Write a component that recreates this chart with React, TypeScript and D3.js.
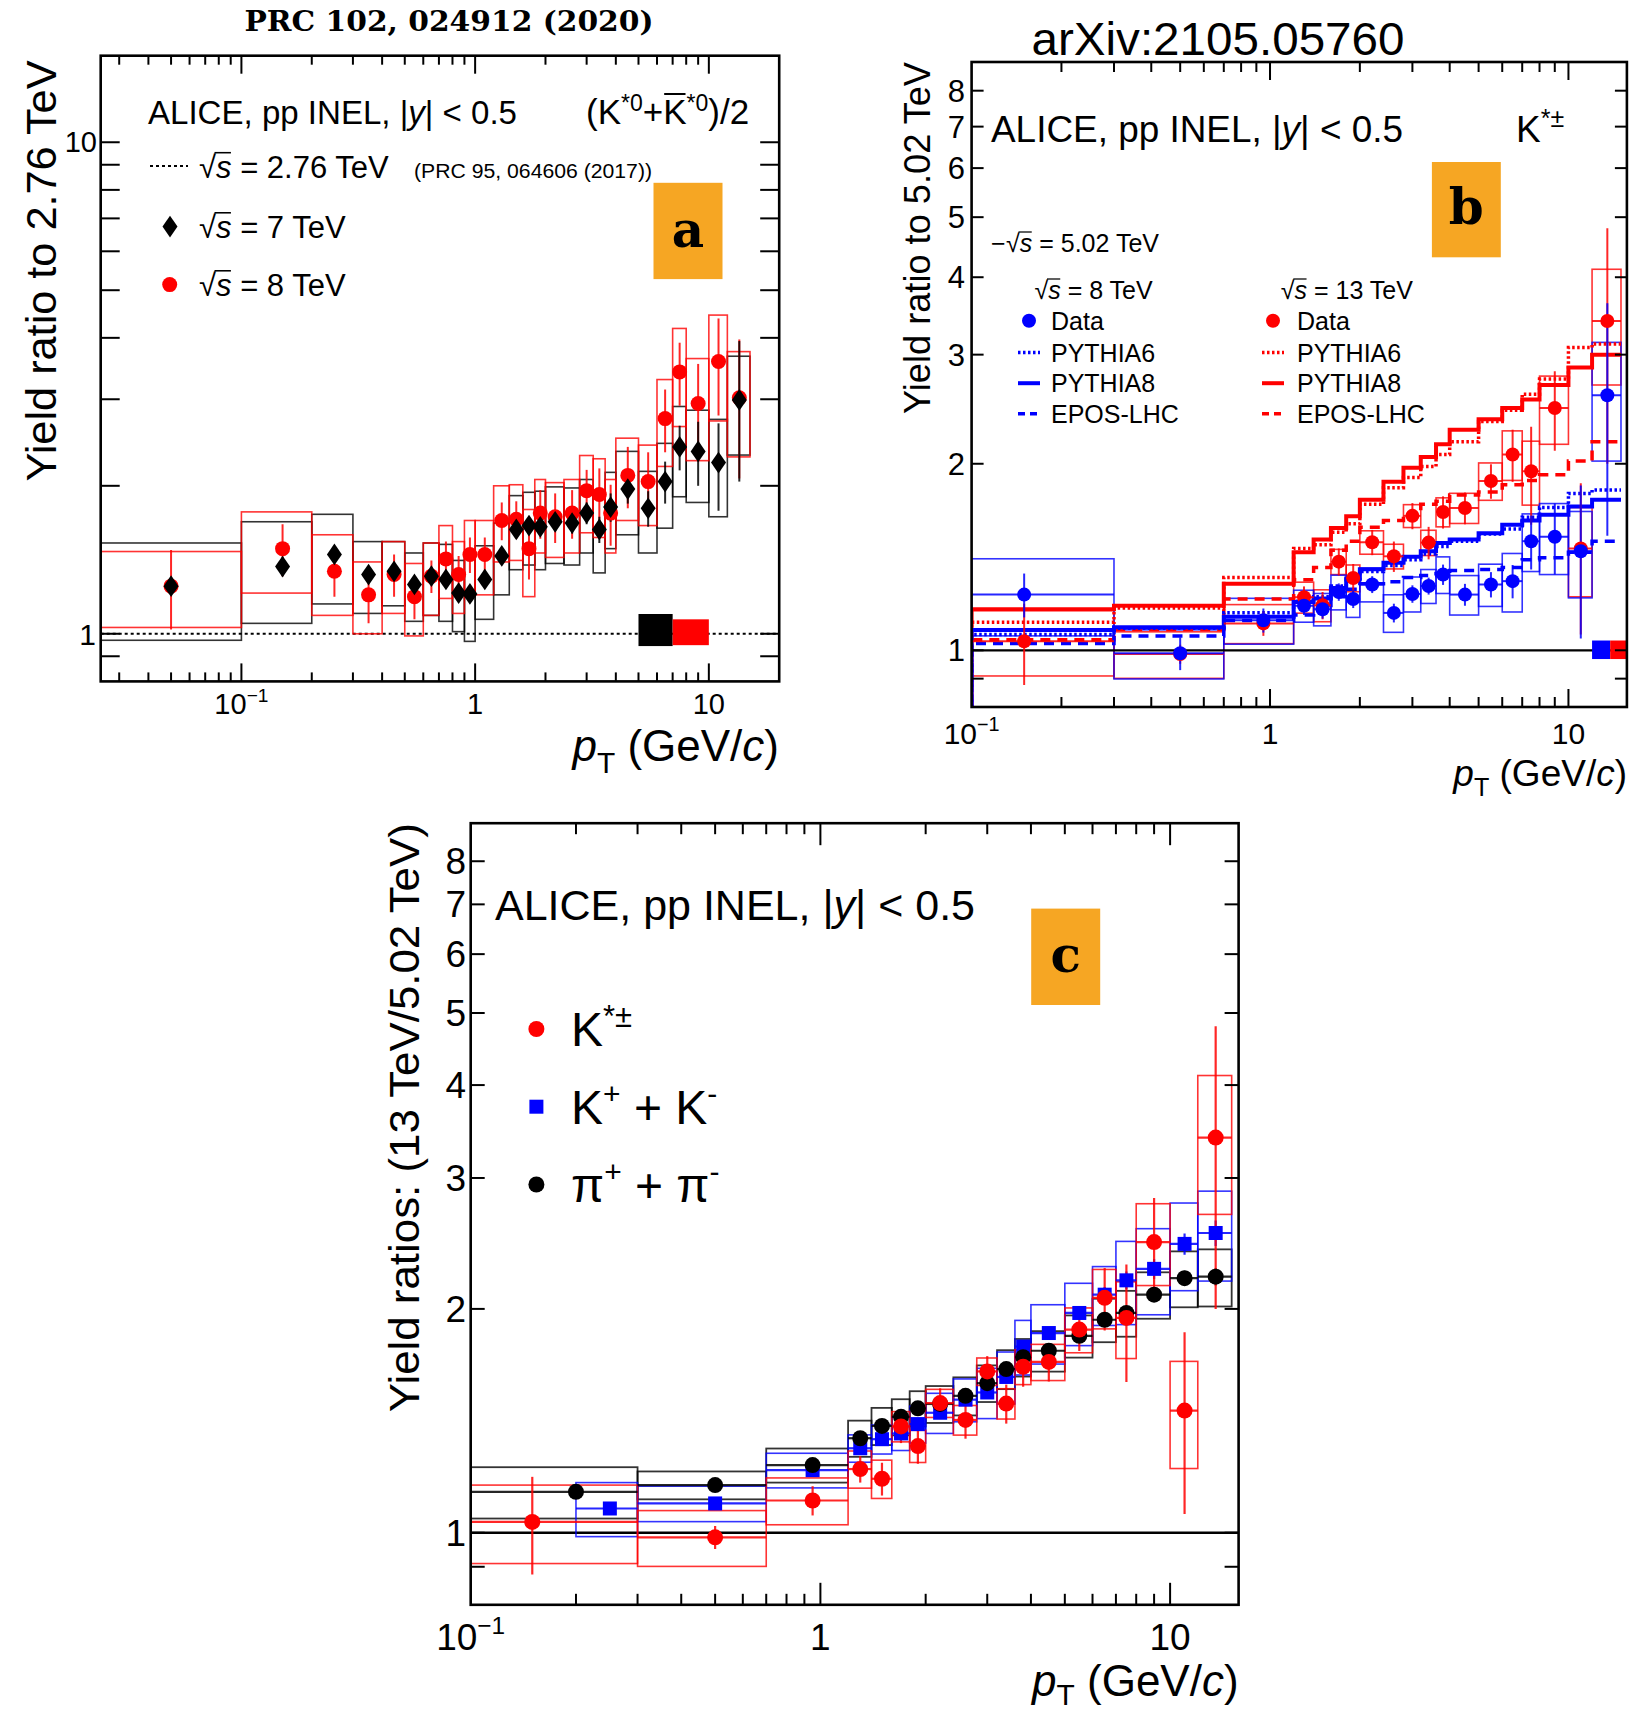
import React from "react";
import * as d3 from "d3";

const SANS = "'Liberation Sans', Arial, Helvetica, sans-serif";
const SERIF = "'DejaVu Serif', serif";
const W = 1630;
const H = 1716;

// ---------- panel a: (K*0 + anti-K*0)/2, ratios to 2.76 TeV ----------
const kstar0Edges = [0, 0.1, 0.2, 0.3, 0.4, 0.5, 0.6, 0.7, 0.8, 0.9, 1.0, 1.2, 1.4, 1.6, 1.8, 2.0, 2.4, 2.8, 3.2, 3.6, 4.0, 5.0, 6.0, 7.0, 8.0, 10, 12, 15];
const ratio7over276 = [1.25, 1.37, 1.45, 1.32, 1.34, 1.26, 1.31, 1.29, 1.21, 1.205, 1.29, 1.44, 1.63, 1.66, 1.65, 1.69, 1.68, 1.76, 1.63, 1.81, 1.97, 1.8, 2.04, 2.4, 2.35, 2.23, 2.99];
const ratio7over276Stat = [0.05, 0.06, 0.05, 0.05, 0.04, 0.05, 0.04, 0.04, 0.04, 0.04, 0.04, 0.05, 0.06, 0.06, 0.06, 0.07, 0.08, 0.09, 0.1, 0.12, 0.13, 0.15, 0.2, 0.25, 0.35, 0.45, 0.95];
const ratio7over276Sys = [0.28, 0.32, 0.3, 0.22, 0.2, 0.2, 0.22, 0.23, 0.2, 0.24, 0.22, 0.24, 0.28, 0.28, 0.3, 0.3, 0.3, 0.3, 0.3, 0.32, 0.38, 0.34, 0.4, 0.5, 0.5, 0.5, 0.68];
const ratio8over276 = [1.25, 1.49, 1.34, 1.2, 1.32, 1.19, 1.31, 1.42, 1.32, 1.45, 1.45, 1.7, 1.71, 1.49, 1.76, 1.73, 1.76, 1.955, 1.92, 1.76, 2.1, 2.04, 2.74, 3.41, 2.94, 3.58, 3.02];
const ratio8over276Stat = [0.23, 0.18, 0.15, 0.15, 0.13, 0.12, 0.1, 0.12, 0.12, 0.12, 0.12, 0.15, 0.15, 0.2, 0.2, 0.2, 0.2, 0.2, 0.25, 0.25, 0.3, 0.3, 0.4, 0.5, 0.6, 0.8, 0.95];
const ratio8over276Sys = [0.22, 0.28, 0.25, 0.2, 0.22, 0.2, 0.22, 0.24, 0.22, 0.25, 0.25, 0.3, 0.3, 0.3, 0.3, 0.3, 0.3, 0.35, 0.35, 0.3, 0.4, 0.38, 0.55, 0.77, 0.69, 0.87, 0.73];
// normalisation uncertainties [ptLo, ptHi, lo, hi]
const normA7 = [5, 7, 0.944, 1.097];
const normA8 = [7, 10, 0.948, 1.07];

// ---------- panel b: K*± ratios to 5.02 TeV, data and models ----------
const kstarEdges = [0, 0.3, 0.7, 1.2, 1.4, 1.6, 1.8, 2.0, 2.4, 2.8, 3.2, 3.6, 4.0, 5.0, 6.0, 7.0, 8.0, 10, 12, 15];
const ks8over5 = [1.23, 0.989, 1.118, 1.18, 1.165, 1.242, 1.21, 1.277, 1.149, 1.233, 1.27, 1.325, 1.23, 1.277, 1.293, 1.5, 1.525, 1.445, 2.58];
const ks8over5Stat = [0.1, 0.06, 0.05, 0.04, 0.04, 0.04, 0.04, 0.04, 0.04, 0.04, 0.04, 0.05, 0.05, 0.06, 0.08, 0.15, 0.2, 0.4, 1.05];
const ks8over5Sys = [0.175, 0.09, 0.095, 0.07, 0.07, 0.08, 0.08, 0.08, 0.08, 0.08, 0.08, 0.09, 0.09, 0.1, 0.14, 0.16, 0.2, 0.23, 0.56];
const ks13over5 = [1.034, 0.986, 1.105, 1.218, 1.182, 1.39, 1.308, 1.494, 1.418, 1.648, 1.492, 1.672, 1.697, 1.876, 2.07, 1.945, 2.46, 1.46, 3.4];
const ks13over5Stat = [0.155, 0.035, 0.05, 0.05, 0.06, 0.07, 0.07, 0.07, 0.08, 0.08, 0.09, 0.1, 0.1, 0.12, 0.2, 0.35, 0.36, 0.4, 1.4];
const ks13over5Sys = [0.125, 0.085, 0.08, 0.07, 0.07, 0.065, 0.065, 0.065, 0.065, 0.07, 0.07, 0.09, 0.095, 0.13, 0.19, 0.23, 0.31, 0.24, 0.72];
const pythia6_8 = [1.06, 1.085, 1.15, 1.2, 1.22, 1.27, 1.3, 1.34, 1.37, 1.4, 1.43, 1.47, 1.5, 1.54, 1.57, 1.64, 1.7, 1.79, 1.815];
const pythia8_8 = [1.078, 1.089, 1.133, 1.197, 1.212, 1.26, 1.306, 1.352, 1.385, 1.416, 1.445, 1.49, 1.51, 1.545, 1.594, 1.62, 1.655, 1.707, 1.75];
const eposLhc_8 = [1.026, 1.055, 1.117, 1.14, 1.165, 1.22, 1.255, 1.28, 1.29, 1.31, 1.32, 1.33, 1.345, 1.35, 1.36, 1.4, 1.41, 1.44, 1.5];
const pythia6_13 = [1.11, 1.17, 1.31, 1.46, 1.48, 1.55, 1.6, 1.72, 1.83, 1.9, 1.98, 2.07, 2.17, 2.34, 2.44, 2.59, 2.74, 3.08, 3.12];
const pythia8_13 = [1.165, 1.18, 1.28, 1.44, 1.51, 1.575, 1.645, 1.75, 1.87, 1.97, 2.05, 2.15, 2.27, 2.36, 2.46, 2.54, 2.68, 2.86, 3.0];
const eposLhc_13 = [1.04, 1.08, 1.21, 1.3, 1.36, 1.45, 1.5, 1.58, 1.62, 1.66, 1.72, 1.74, 1.78, 1.8, 1.85, 1.88, 1.92, 2.02, 2.17];
const normB8 = [12, 13.8, 0.968, 1.037];
const normB13 = [13.8, 15.7, 0.968, 1.037];

// ---------- panel c: 13 TeV / 5.02 TeV for K*±, K, π ----------
const kaonEdges = [0.2, 0.3, 0.7, 1.2, 1.4, 1.6, 1.8, 2.0, 2.4, 2.8, 3.2, 3.6, 4.0, 5.0, 6.0, 7.0, 8.0, 10, 12, 15];
const pionEdges = [0.1, 0.3, 0.7, 1.2, 1.4, 1.6, 1.8, 2.0, 2.4, 2.8, 3.2, 3.6, 4.0, 5.0, 6.0, 7.0, 8.0, 10, 12, 15];
const kaon13over5 = [1.078, 1.095, 1.214, 1.299, 1.336, 1.36, 1.4, 1.45, 1.51, 1.544, 1.62, 1.78, 1.856, 1.975, 2.09, 2.185, 2.264, 2.446, 2.53];
const kaon13over5Stat = [0.02, 0.02, 0.02, 0.02, 0.02, 0.02, 0.02, 0.025, 0.025, 0.03, 0.03, 0.03, 0.035, 0.04, 0.05, 0.06, 0.07, 0.08, 0.1];
const kaon13over5Sys = [0.09, 0.06, 0.065, 0.055, 0.06, 0.07, 0.08, 0.09, 0.1, 0.12, 0.13, 0.15, 0.17, 0.19, 0.19, 0.28, 0.3, 0.33, 0.35];
const pion13over5 = [1.135, 1.159, 1.233, 1.34, 1.392, 1.432, 1.47, 1.49, 1.528, 1.589, 1.66, 1.722, 1.757, 1.84, 1.934, 1.975, 2.09, 2.2, 2.21];
const pion13over5Stat = [0.01, 0.01, 0.01, 0.01, 0.01, 0.01, 0.01, 0.012, 0.012, 0.015, 0.015, 0.02, 0.02, 0.025, 0.03, 0.03, 0.04, 0.05, 0.06];
const pion13over5Sys = [0.09, 0.05, 0.065, 0.075, 0.08, 0.08, 0.08, 0.085, 0.09, 0.09, 0.1, 0.1, 0.11, 0.12, 0.13, 0.14, 0.15, 0.19, 0.195];

const xLabelExps = [-1, 0, 1];
const yLabelsBC = [1, 2, 3, 4, 5, 6, 7, 8];

type LogScale = d3.ScaleLogarithmic<number, number>;
type Marker = "circle" | "diamond" | "square";
interface Series {
  edges: number[];
  values: number[];
  stat: number[];
  sys: number[];
  color: string;
  marker: Marker;
  size: number;
  xbars: boolean;
}

const mids = (edges: number[]) => edges.slice(0, -1).map((e, i) => (e + edges[i + 1]) / 2);

function cx(x: LogScale, v: number) {
  const [lo, hi] = x.domain();
  return x(Math.min(Math.max(v, lo), hi));
}

function logTicks(lo: number, hi: number) {
  const major: number[] = [];
  const minor: number[] = [];
  for (let e = Math.floor(Math.log10(lo)) - 1; e <= Math.ceil(Math.log10(hi)); e++) {
    for (let d = 1; d <= 9; d++) {
      const v = +(d * Math.pow(10, e)).toPrecision(6);
      if (v <= lo * 1.001 || v >= hi * 0.999) continue;
      (d === 1 ? major : minor).push(v);
    }
  }
  return { major, minor };
}

function SysBoxes({ s, x, y, width = 1.6 }: { s: Series; x: LogScale; y: LogScale; width?: number }) {
  return (
    <g fill="none" stroke={s.color} strokeWidth={width} strokeOpacity={0.8}>
      {s.values.map((v, i) => {
        const x0 = cx(x, s.edges[i]);
        const x1 = cx(x, s.edges[i + 1]);
        const y0 = y(v + s.sys[i]);
        const y1 = y(v - s.sys[i]);
        return <rect key={i} x={x0} y={y0} width={x1 - x0} height={y1 - y0} />;
      })}
    </g>
  );
}

function StatBars({ s, x, y, width }: { s: Series; x: LogScale; y: LogScale; width: number }) {
  const c = mids(s.edges);
  return (
    <g stroke={s.color} strokeWidth={width} strokeOpacity={0.85}>
      {s.values.map((v, i) => (
        <line key={"v" + i} x1={x(c[i])} x2={x(c[i])} y1={y(v + s.stat[i])} y2={y(v - s.stat[i])} />
      ))}
      {s.xbars &&
        s.values.map((v, i) => (
          <line key={"h" + i} x1={cx(x, s.edges[i])} x2={cx(x, s.edges[i + 1])} y1={y(v)} y2={y(v)} />
        ))}
    </g>
  );
}

function MarkerShape({ m, px, py, size, color }: { m: Marker; px: number; py: number; size: number; color: string }) {
  if (m === "circle") return <circle cx={px} cy={py} r={size} fill={color} />;
  if (m === "square") return <rect x={px - size} y={py - size} width={2 * size} height={2 * size} fill={color} />;
  const h = size * 1.45;
  return <path d={`M${px},${py - h}L${px + size},${py}L${px},${py + h}L${px - size},${py}Z`} fill={color} />;
}

function Markers({ s, x, y }: { s: Series; x: LogScale; y: LogScale }) {
  const c = mids(s.edges);
  return (
    <g>
      {s.values.map((v, i) => (
        <MarkerShape key={i} m={s.marker} px={x(c[i])} py={y(v)} size={s.size} color={s.color} />
      ))}
    </g>
  );
}

function stepPath(edges: number[], vals: number[], x: LogScale, y: LogScale) {
  let d = `M${cx(x, edges[0])},${y.range()[0]}`;
  vals.forEach((v, i) => {
    d += `V${y(v)}H${cx(x, edges[i + 1])}`;
  });
  return d;
}

function Frame({
  x, y, xMaj, xMin, yLen, yMinLen,
}: { x: LogScale; y: LogScale; xMaj: number; xMin: number; yLen: number; yMinLen: number }) {
  const [xl, xr] = x.range();
  const [yb, yt] = y.range();
  const xt = logTicks(x.domain()[0], x.domain()[1]);
  const ytk = logTicks(y.domain()[0], y.domain()[1]);
  const lines: JSX.Element[] = [];
  const addX = (v: number, len: number, k: string) => {
    const px = x(v);
    lines.push(<line key={"xb" + k} x1={px} x2={px} y1={yb} y2={yb - len} />);
    lines.push(<line key={"xt" + k} x1={px} x2={px} y1={yt} y2={yt + len} />);
  };
  const addY = (v: number, len: number, k: string) => {
    const py = y(v);
    lines.push(<line key={"yl" + k} x1={xl} x2={xl + len} y1={py} y2={py} />);
    lines.push(<line key={"yr" + k} x1={xr} x2={xr - len} y1={py} y2={py} />);
  };
  xt.major.forEach((v, i) => addX(v, xMaj, "M" + i));
  xt.minor.forEach((v, i) => addX(v, xMin, "m" + i));
  ytk.major.forEach((v, i) => addY(v, yLen, "M" + i));
  ytk.minor.forEach((v, i) => addY(v, yMinLen, "m" + i));
  return (
    <g stroke="#000" strokeWidth={2}>
      {lines}
      <rect x={xl} y={yt} width={xr - xl} height={yb - yt} fill="none" strokeWidth={2.6} />
    </g>
  );
}

function PowLabel({ px, py, exp, size }: { px: number; py: number; exp: number; size: number }) {
  if (exp === 0) return <text x={px} y={py} fontSize={size} textAnchor="middle">1</text>;
  if (exp === 1) return <text x={px} y={py} fontSize={size} textAnchor="middle">10</text>;
  return (
    <text x={px} y={py} fontSize={size} textAnchor="middle">
      10<tspan dy={-size * 0.42} fontSize={size * 0.66}>{"\u2212" + Math.abs(exp)}</tspan>
    </text>
  );
}

function PtTitle({ px, py, size, drop = 0.28 }: { px: number; py: number; size: number; drop?: number }) {
  return (
    <text x={px} y={py} fontSize={size} textAnchor="end">
      <tspan fontStyle="italic">p</tspan>
      <tspan dy={size * drop} fontSize={size * 0.68}>T</tspan>
      <tspan dy={-size * drop}> (GeV/</tspan>
      <tspan fontStyle="italic">c</tspan>)
    </text>
  );
}

function RootS({ px, py, size, rest }: { px: number; py: number; size: number; rest: string }) {
  return (
    <g>
      <text x={px} y={py} fontSize={size}>
        √<tspan fontStyle="italic">s</tspan>
        {rest}
      </text>
      <line x1={px + 0.5 * size} x2={px + 1.03 * size} y1={py - 0.8 * size} y2={py - 0.8 * size} stroke="#000" strokeWidth={Math.max(1, size * 0.05)} />
    </g>
  );
}

function TagBox({ x0, y0, x1, y1, letter, base }: { x0: number; y0: number; x1: number; y1: number; letter: string; base: number }) {
  return (
    <g>
      <rect x={x0} y={y0} width={x1 - x0} height={y1 - y0} fill="#F6A623" />
      <text x={(x0 + x1) / 2} y={base} fontFamily={SERIF} fontWeight="bold" fontSize={50} textAnchor="middle">
        {letter}
      </text>
    </g>
  );
}

function NormBox({ n, x, y, color }: { n: number[]; x: LogScale; y: LogScale; color: string }) {
  return <rect x={x(n[0])} y={y(n[3])} width={x(n[1]) - x(n[0])} height={y(n[2]) - y(n[3])} fill={color} />;
}

export default function App() {
  const xA = d3.scaleLog().domain([0.025, 20]).range([100.7, 779.2]);
  const yA = d3.scaleLog().domain([0.8, 15]).range([681.4, 55.7]);
  const xB = d3.scaleLog().domain([0.1, 15.7]).range([971.6, 1626.9]);
  const yB = d3.scaleLog().domain([0.81, 8.9]).range([707, 62]);
  const xC = d3.scaleLog().domain([0.1, 15.7]).range([470.7, 1238.6]);
  const yC = d3.scaleLog().domain([0.8, 9]).range([1604.8, 823.2]);

  const RED = "#ff0000";
  const BLUE = "#0000ff";

  const a7: Series = { edges: kstar0Edges, values: ratio7over276, stat: ratio7over276Stat, sys: ratio7over276Sys, color: "#000", marker: "diamond", size: 7.5, xbars: false };
  const a8: Series = { edges: kstar0Edges, values: ratio8over276, stat: ratio8over276Stat, sys: ratio8over276Sys, color: RED, marker: "circle", size: 7.5, xbars: false };
  const b8: Series = { edges: kstarEdges, values: ks8over5, stat: ks8over5Stat, sys: ks8over5Sys, color: BLUE, marker: "circle", size: 7, xbars: true };
  const b13: Series = { edges: kstarEdges, values: ks13over5, stat: ks13over5Stat, sys: ks13over5Sys, color: RED, marker: "circle", size: 7, xbars: true };
  const cKs: Series = { ...b13, size: 8 };
  const cK: Series = { edges: kaonEdges, values: kaon13over5, stat: kaon13over5Stat, sys: kaon13over5Sys, color: BLUE, marker: "square", size: 7, xbars: true };
  const cPi: Series = { edges: pionEdges, values: pion13over5, stat: pion13over5Stat, sys: pion13over5Sys, color: "#000", marker: "circle", size: 8, xbars: true };

  const models = [
    { vals: pythia6_13, color: RED, dash: "2.5,2.5", w: 3.5 },
    { vals: eposLhc_13, color: RED, dash: "10,7", w: 3.5 },
    { vals: pythia8_13, color: RED, dash: "none", w: 4 },
    { vals: pythia6_8, color: BLUE, dash: "2.5,2.5", w: 3.5 },
    { vals: eposLhc_8, color: BLUE, dash: "10,7", w: 3.5 },
    { vals: pythia8_8, color: BLUE, dash: "none", w: 4 },
  ];

  const clip = (id: string, x: LogScale, y: LogScale) => (
    <clipPath id={id}>
      <rect x={x.range()[0]} y={y.range()[1]} width={x.range()[1] - x.range()[0]} height={y.range()[0] - y.range()[1]} />
    </clipPath>
  );

  const legendB = [
    { label: "PYTHIA6", dash: "2.5,2.5", w: 3.5 },
    { label: "PYTHIA8", dash: "none", w: 4 },
    { label: "EPOS-LHC", dash: "7,5", w: 3.5 },
  ];
  const legendRowsB = [352.5, 383.2, 413.8];

  // overline position for the anti-K*0 symbol
  const kfs = 35;
  const kbarX0 = 586 + (0.333 + 0.667) * kfs + 0.945 * 23 + 0.584 * kfs;
  const kbarX1 = kbarX0 + 0.667 * kfs;

  return (
    <svg width={W} height={H} style={{ position: "absolute", left: 0, top: 0 }} fontFamily={SANS}>
      <rect width={W} height={H} fill="#fff" />
      <defs>
        {clip("clipA", xA, yA)}
        {clip("clipB", xB, yB)}
        {clip("clipC", xC, yC)}
      </defs>

      {/* ================= panel a ================= */}
      <text x={449} y={31} fontFamily={SERIF} fontWeight="bold" fontSize={28} textAnchor="middle" textLength={409} lengthAdjust="spacingAndGlyphs">
        PRC 102, 024912 (2020)
      </text>
      <g clipPath="url(#clipA)">
        <line x1={xA.range()[0]} x2={xA.range()[1]} y1={yA(1)} y2={yA(1)} stroke="#000" strokeWidth={2.2} strokeDasharray="3,3" />
        <SysBoxes s={a7} x={xA} y={yA} />
        <SysBoxes s={a8} x={xA} y={yA} />
        <NormBox n={normA7} x={xA} y={yA} color="#000" />
        <NormBox n={normA8} x={xA} y={yA} color={RED} />
        <StatBars s={a8} x={xA} y={yA} width={2} />
        <StatBars s={a7} x={xA} y={yA} width={2} />
        <Markers s={a8} x={xA} y={yA} />
        <Markers s={a7} x={xA} y={yA} />
      </g>
      <Frame x={xA} y={yA} xMaj={18} xMin={9} yLen={19} yMinLen={19} />
      {xLabelExps.map((e) => (
        <PowLabel key={e} px={xA(Math.pow(10, e))} py={714} exp={e} size={29} />
      ))}
      <text x={97} y={yA(10) + 10} fontSize={29} textAnchor="end">10</text>
      <text x={96} y={yA(1) + 11} fontSize={30} textAnchor="end">1</text>
      <PtTitle px={779} py={761} size={44} />
      <text transform={`translate(56,271) rotate(-90)`} fontSize={43} textAnchor="middle" textLength={421} lengthAdjust="spacingAndGlyphs">
        Yield ratio to 2.76 TeV
      </text>
      <text x={148} y={124} fontSize={33} textLength={369} lengthAdjust="spacingAndGlyphs">
        ALICE, pp INEL, |<tspan fontStyle="italic">y</tspan>| &lt; 0.5
      </text>
      <text x={586} y={124} fontSize={kfs}>
        (K<tspan dy={-13} fontSize={23}>*0</tspan>
        <tspan dy={13}>+K</tspan>
        <tspan dy={-13} fontSize={23}>*0</tspan>
        <tspan dy={13}>)/2</tspan>
      </text>
      <line x1={kbarX0 + 1} x2={kbarX1 - 1} y1={94} y2={94} stroke="#000" strokeWidth={2} />
      <line x1={150} x2={188} y1={166} y2={166} stroke="#000" strokeWidth={2.2} strokeDasharray="3,3" />
      <RootS px={199} py={177.5} size={31} rest=" = 2.76 TeV" />
      <text x={414} y={177.5} fontSize={20} textLength={238} lengthAdjust="spacingAndGlyphs">(PRC 95, 064606 (2017))</text>
      <MarkerShape m="diamond" px={170} py={226.6} size={7.5} color="#000" />
      <RootS px={199} py={237.6} size={31} rest=" = 7 TeV" />
      <MarkerShape m="circle" px={169.7} py={284.6} size={7.5} color={RED} />
      <RootS px={199} py={295.6} size={31} rest=" = 8 TeV" />
      <TagBox x0={653.5} y0={182.8} x1={722.5} y1={279.1} letter="a" base={247} />

      {/* ================= panel b ================= */}
      <text x={1218} y={55} fontSize={47} textAnchor="middle" textLength={373} lengthAdjust="spacingAndGlyphs">
        arXiv:2105.05760
      </text>
      <g clipPath="url(#clipB)">
        <SysBoxes s={b13} x={xB} y={yB} />
        <SysBoxes s={b8} x={xB} y={yB} />
        {models.map((m, i) => (
          <path key={i} d={stepPath(kstarEdges, m.vals, xB, yB)} fill="none" stroke={m.color} strokeWidth={m.w} strokeDasharray={m.dash} />
        ))}
        <line x1={xB.range()[0]} x2={xB.range()[1]} y1={yB(1)} y2={yB(1)} stroke="#000" strokeWidth={2.2} />
        <NormBox n={normB8} x={xB} y={yB} color={BLUE} />
        <NormBox n={normB13} x={xB} y={yB} color={RED} />
        <StatBars s={b13} x={xB} y={yB} width={2} />
        <StatBars s={b8} x={xB} y={yB} width={2} />
        <Markers s={b13} x={xB} y={yB} />
        <Markers s={b8} x={xB} y={yB} />
      </g>
      <Frame x={xB} y={yB} xMaj={18} xMin={10} yLen={12} yMinLen={12} />
      {xLabelExps.map((e) => (
        <PowLabel key={e} px={xB(Math.pow(10, e))} py={744} exp={e} size={30} />
      ))}
      {yLabelsBC.map((v) => (
        <text key={v} x={965} y={yB(v) + 11} fontSize={31} textAnchor="end">{v}</text>
      ))}
      <PtTitle px={1627} py={786} size={37} />
      <text transform={`translate(930,238) rotate(-90)`} fontSize={36} textAnchor="middle" textLength={352} lengthAdjust="spacingAndGlyphs">
        Yield ratio to 5.02 TeV
      </text>
      <text x={991} y={142} fontSize={37} textLength={412} lengthAdjust="spacingAndGlyphs">
        ALICE, pp INEL, |<tspan fontStyle="italic">y</tspan>| &lt; 0.5
      </text>
      <text x={1516} y={142} fontSize={37}>
        K<tspan dy={-15} fontSize={25}>*±</tspan>
      </text>
      <TagBox x0={1431.9} y0={162} x1={1500.8} y1={257.3} letter="b" base={224} />
      <text x={991} y={252} fontSize={25}>−</text>
      <RootS px={1006} py={252} size={25} rest=" = 5.02 TeV" />
      <RootS px={1034.5} py={299} size={25} rest=" = 8 TeV" />
      <RootS px={1280.8} py={299} size={25} rest=" = 13 TeV" />
      {[
        { c: BLUE, sx: 1018, tx: 1051 },
        { c: RED, sx: 1262, tx: 1297 },
      ].map((col, k) => (
        <g key={k}>
          <circle cx={col.sx + 11} cy={320.7} r={7} fill={col.c} />
          <text x={col.tx} y={329.7} fontSize={25}>Data</text>
          {legendB.map((l, i) => (
            <g key={i}>
              <line x1={col.sx} x2={col.sx + 22} y1={legendRowsB[i]} y2={legendRowsB[i]} stroke={col.c} strokeWidth={l.w} strokeDasharray={l.dash} />
              <text x={col.tx} y={legendRowsB[i] + 9} fontSize={25}>{l.label}</text>
            </g>
          ))}
        </g>
      ))}

      {/* ================= panel c ================= */}
      <g clipPath="url(#clipC)">
        <line x1={xC.range()[0]} x2={xC.range()[1]} y1={yC(1)} y2={yC(1)} stroke="#000" strokeWidth={2.4} />
        <SysBoxes s={cPi} x={xC} y={yC} width={1.8} />
        <SysBoxes s={cK} x={xC} y={yC} />
        <SysBoxes s={cKs} x={xC} y={yC} />
        <StatBars s={cK} x={xC} y={yC} width={2.2} />
        <StatBars s={cPi} x={xC} y={yC} width={2.2} />
        <StatBars s={cKs} x={xC} y={yC} width={2.2} />
        <Markers s={cK} x={xC} y={yC} />
        <Markers s={cPi} x={xC} y={yC} />
        <Markers s={cKs} x={xC} y={yC} />
      </g>
      <Frame x={xC} y={yC} xMaj={22} xMin={11} yLen={14} yMinLen={14} />
      {xLabelExps.map((e) => (
        <PowLabel key={e} px={xC(Math.pow(10, e))} py={1650} exp={e} size={37} />
      ))}
      {yLabelsBC.map((v) => (
        <text key={v} x={466} y={yC(v) + 13} fontSize={37} textAnchor="end">{v}</text>
      ))}
      <PtTitle px={1238.6} py={1696} size={44} drop={0.2} />
      <text transform={`translate(419,1117.7) rotate(-90)`} fontSize={43} textAnchor="middle" textLength={589} lengthAdjust="spacingAndGlyphs">
        Yield ratios: (13 TeV/5.02 TeV)
      </text>
      <text x={495} y={920} fontSize={43} textLength={480} lengthAdjust="spacingAndGlyphs">
        ALICE, pp INEL, |<tspan fontStyle="italic">y</tspan>| &lt; 0.5
      </text>
      <TagBox x0={1031.2} y0={908.6} x1={1100.2} y1={1005} letter="c" base={972} />
      <MarkerShape m="circle" px={536.4} py={1029} size={8} color={RED} />
      <text x={571} y={1046} fontSize={48}>
        K<tspan dy={-19} fontSize={31}>*±</tspan>
      </text>
      <MarkerShape m="square" px={536.4} py={1106.7} size={7} color={BLUE} />
      <text x={571} y={1124} fontSize={48}>
        K<tspan dy={-20} fontSize={30}>+</tspan>
        <tspan dy={20}> + K</tspan>
        <tspan dy={-20} fontSize={30}>-</tspan>
      </text>
      <MarkerShape m="circle" px={536.4} py={1184.5} size={8} color="#000" />
      <text x={571} y={1202} fontSize={48}>
        π<tspan dy={-20} fontSize={30}>+</tspan>
        <tspan dy={20}> + π</tspan>
        <tspan dy={-20} fontSize={30}>-</tspan>
      </text>
    </svg>
  );
}
